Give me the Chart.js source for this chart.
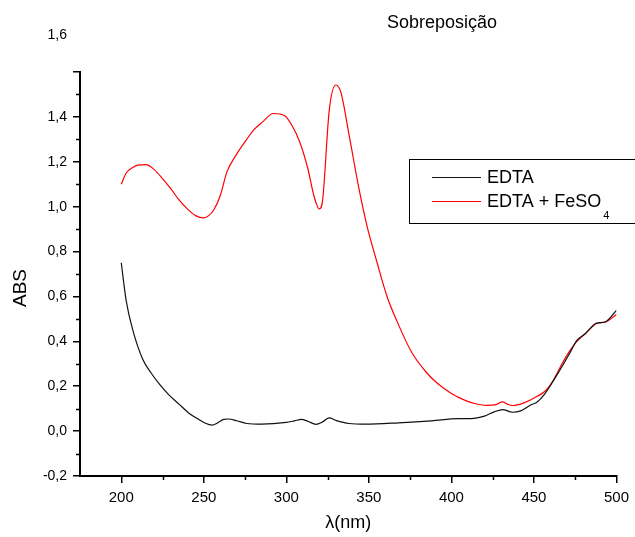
<!DOCTYPE html>
<html>
<head>
<meta charset="utf-8">
<script src="https://cdn.jsdelivr.net/npm/chart.js@4"></script>
<style>
  body { margin: 0; background: #fff; }
  #wrap { width: 635px; height: 537px; }
</style>
</head>
<body>
<div id="wrap"><canvas id="chart" width="635" height="537"></canvas></div>
<script>
// EDTA (preto)
var edta_nm = [200, 203, 207, 213, 218, 223, 229, 235, 241, 247, 251, 255, 258, 262, 265, 270, 276, 285, 300, 305, 309, 313, 318, 322, 326, 330, 338, 348, 368, 388, 404, 412, 420, 426, 431, 437, 442, 448, 452, 456, 462, 468, 472, 476, 481, 488, 493, 500];
var edta_abs = [0.75, 0.58, 0.45, 0.32, 0.26, 0.21, 0.16, 0.12, 0.08, 0.052, 0.035, 0.027, 0.035, 0.052, 0.054, 0.046, 0.034, 0.031, 0.039, 0.046, 0.052, 0.044, 0.030, 0.041, 0.059, 0.048, 0.034, 0.031, 0.037, 0.046, 0.056, 0.056, 0.067, 0.086, 0.096, 0.084, 0.090, 0.116, 0.130, 0.16, 0.227, 0.30, 0.352, 0.404, 0.434, 0.481, 0.486, 0.538];

// EDTA + FeSO4 (vermelho)
var fe_nm = [200, 203, 207, 210, 215, 220, 225, 230, 235, 240, 245, 250, 253, 256, 260, 264, 270, 276, 280, 286, 292, 299, 303, 308, 313, 317, 320, 322, 326, 330, 333, 338, 344, 349, 355, 361, 367, 376, 385, 392, 400, 408, 414, 421, 427, 431, 434, 437, 444, 452, 457, 462, 467, 471, 476, 482, 488, 493, 500];
var fe_abs = [1.10, 1.15, 1.175, 1.185, 1.187, 1.165, 1.125, 1.08, 1.03, 0.99, 0.96, 0.95, 0.96, 0.985, 1.05, 1.155, 1.235, 1.30, 1.34, 1.38, 1.415, 1.405, 1.367, 1.29, 1.17, 1.04, 0.99, 1.03, 1.43, 1.542, 1.51, 1.32, 1.08, 0.91, 0.75, 0.60, 0.49, 0.35, 0.26, 0.21, 0.168, 0.138, 0.123, 0.115, 0.118, 0.130, 0.12, 0.114, 0.126, 0.155, 0.18, 0.23, 0.30, 0.35, 0.40, 0.44, 0.48, 0.485, 0.52];

var x_min = 175, x_max = 500;
var y_min = -0.2, y_max = 1.6;
var x_minor = [225, 275, 325, 375, 425, 475];
var y_minor = [-0.1, 0.1, 0.3, 0.5, 0.7, 0.9, 1.1, 1.3, 1.5];

var FONT = '"Liberation Sans", Arial, sans-serif';

function pts(xs, ys) {
    var out = [];
    for (let i = 0; i < xs.length; i++) out.push({ x: xs[i], y: ys[i] });
    return out;
}

function virgula(v) {
    return v.toFixed(1).replace('.', ',');
}

// titulo, ABS, 1,6 solto, ticks menores e legenda
var extras = {
    id: 'extras',
    afterDraw: function (chart) {
        var ctx = chart.ctx;
        var xs = chart.scales.x, ys = chart.scales.y;
        ctx.save();
        ctx.strokeStyle = '#000';
        ctx.lineWidth = 1.5;
        ctx.beginPath();
        y_minor.forEach(function (v) {
            var py = Math.round(ys.getPixelForValue(v)) + 0.5;
            ctx.moveTo(xs.left - 4, py);
            ctx.lineTo(xs.left, py);
        });
        x_minor.forEach(function (v) {
            var px = Math.round(xs.getPixelForValue(v)) + 0.5;
            ctx.moveTo(px, ys.bottom);
            ctx.lineTo(px, ys.bottom + 4);
        });
        ctx.stroke();

        ctx.fillStyle = '#000';
        ctx.font = '18px ' + FONT;
        ctx.textAlign = 'center';
        ctx.textBaseline = 'alphabetic';
        ctx.fillText('Sobreposição', 442, 28);

        ctx.font = '14px ' + FONT;
        ctx.textAlign = 'right';
        ctx.textBaseline = 'middle';
        ctx.fillText('1,6', 67, 35);

        ctx.save();
        ctx.translate(21, 288);
        ctx.rotate(-Math.PI / 2);
        ctx.font = '19px ' + FONT;
        ctx.textAlign = 'center';
        ctx.textBaseline = 'middle';
        ctx.fillText('ABS', 0, 0);
        ctx.restore();

        // legenda
        ctx.lineWidth = 1;
        ctx.strokeStyle = '#000';
        ctx.strokeRect(409.5, 159.5, 240, 64);
        var rows = [
            { y: 177, color: chart.data.datasets[0].borderColor, text: 'EDTA', sub: '' },
            { y: 201, color: chart.data.datasets[1].borderColor, text: 'EDTA + FeSO', sub: '4' }
        ];
        rows.forEach(function (r) {
            ctx.strokeStyle = r.color;
            ctx.lineWidth = 1.2;
            ctx.beginPath();
            ctx.moveTo(432, r.y + 0.5);
            ctx.lineTo(481, r.y + 0.5);
            ctx.stroke();
            ctx.font = '18px ' + FONT;
            ctx.textAlign = 'left';
            ctx.textBaseline = 'middle';
            ctx.fillStyle = '#000';
            ctx.fillText(r.text, 487, r.y + 1);
            if (r.sub) {
                var w = ctx.measureText(r.text).width;
                ctx.font = '11px ' + FONT;
                ctx.fillText(r.sub, 487 + w + 2, r.y + 15);
            }
        });
        ctx.restore();
    }
};

new Chart(document.getElementById('chart').getContext('2d'), {
    type: 'line',
    data: {
        datasets: [{
            label: 'EDTA',
            data: pts(edta_nm, edta_abs),
            borderColor: '#111111',
            borderWidth: 1.2,
            pointRadius: 0,
            cubicInterpolationMode: 'monotone',
            fill: false
        }, {
            label: 'EDTA + FeSO₄',
            data: pts(fe_nm, fe_abs),
            borderColor: '#ff0000',
            borderWidth: 1.2,
            pointRadius: 0,
            cubicInterpolationMode: 'monotone',
            fill: false
        }]
    },
    options: {
        responsive: false,
        animation: false,
        layout: { padding: { top: 72, right: 15, left: 0, bottom: 0 } },
        plugins: {
            legend: { display: false },
            tooltip: { enabled: false }
        },
        scales: {
            x: {
                type: 'linear',
                min: x_min,
                max: x_max,
                afterFit: function (s) { s.height = 61; },
                border: { display: true, color: '#000', width: 2 },
                grid: { drawOnChartArea: false, drawTicks: true, tickLength: 7, color: '#000', lineWidth: 1.5 },
                ticks: {
                    stepSize: 50,
                    includeBounds: false,
                    color: '#000',
                    padding: 6,
                    maxRotation: 0,
                    font: { family: FONT, size: 15 }
                },
                title: {
                    display: true,
                    text: 'λ(nm)',
                    color: '#000',
                    padding: { top: 0, bottom: 3 },
                    font: { family: FONT, size: 18 }
                }
            },
            y: {
                min: y_min,
                max: y_max,
                afterFit: function (s) { s.width = 80; },
                border: { display: true, color: '#000', width: 2 },
                grid: { drawOnChartArea: false, drawTicks: true, tickLength: 7, color: '#000', lineWidth: 1.5 },
                ticks: {
                    stepSize: 0.2,
                    color: '#000',
                    padding: 6,
                    font: { family: FONT, size: 14 },
                    callback: function (v) {
                        if (Math.abs(v - 1.6) < 1e-6) return '';
                        return virgula(v);
                    }
                }
            }
        }
    },
    plugins: [extras]
});
</script>
</body>
</html>
